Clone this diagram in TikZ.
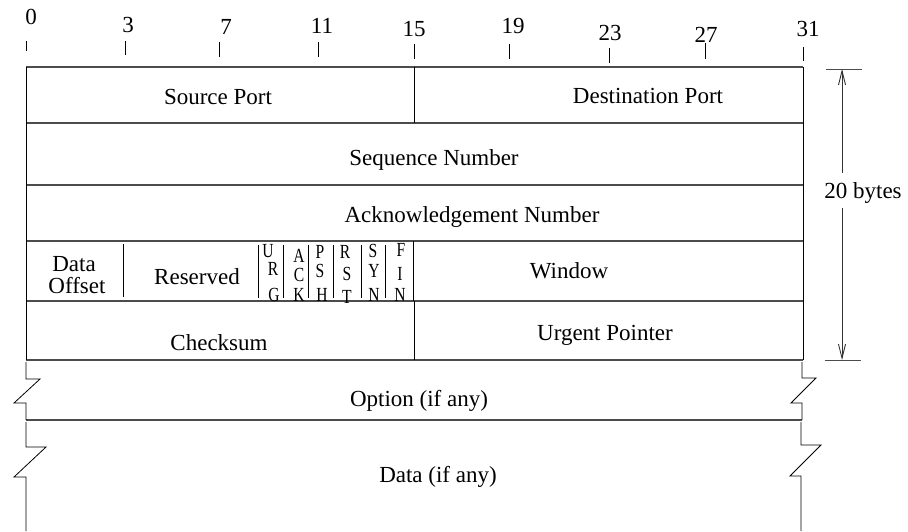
\documentclass[tikz,border=0pt]{standalone}
\usepackage{fontspec}
\setmainfont{Liberation Serif}
\usetikzlibrary{arrows.meta}
\newcommand{\flagch}[1]{\scalebox{0.78}[1]{#1}}
\begin{document}
\begin{tikzpicture}[x=1pt,y=-1pt,
  lbl/.style={font=\fontsize{23}{26}\selectfont, inner sep=0pt, anchor=base},
  flagl/.style={font=\fontsize{20}{22}\selectfont, inner sep=0pt},
  ticklbl/.style={font=\fontsize{23}{26}\selectfont, inner sep=0pt},
  rowline/.style={draw=black!70, line width=1.3pt},
  vline/.style={draw=black, line width=1pt},
  thin/.style={draw=black, line width=0.8pt},
  dimarrow/.style={draw=black!80, line width=0.9pt, -{Straight Barb[length=14pt,width=7pt]}}]
\useasboundingbox (0,0) rectangle (908,531);

% tick marks and labels
\foreach \x/\lx/\ly/\ta/\tb/\t in {26/31/17/41/51/0, 125/128/25/41/55/3, 219/226/27/42/57/7,
   318/322/26/42/57/11, 414/414/29/44/59/15, 509/513/26/44/59/19, 609/610/33/48/63/23,
   705/706/35/43/59/27, 803/808/29/47/61/31}{
  \draw[thin] (\x,\ta) -- (\x,\tb);
  \node[ticklbl] (t\t) at (\lx,\ly) {\t};
}

% row lines
\foreach \y in {67,123,185,241,301,360}{
  \draw[rowline] (26,\y) -- (803,\y);
}
\draw[rowline] (26,420) -- (802,420);

% outer vertical edges of the 20-byte header
\draw[vline] (26,67) -- (26,360);
\draw[vline] (803,67) -- (803,360);

% internal dividers
\draw[vline] (414,67) -- (414,123);
\draw[vline] (123,244) -- (123,297);
\draw[vline] (413,241) -- (413,301);
\draw[vline] (414,301) -- (414,360);
\foreach \x in {258,283,308,333,361,385}{
  \draw[thin] (\x,245) -- (\x,298);
}

% broken edges: option
\draw[thin] (26,362) -- (26,379) -- (40,379) -- (14,403) -- (26,403) -- (26,420);
\draw[thin] (802,362) -- (802,378) -- (816,378) -- (791,403) -- (802,403) -- (802,420);
% broken edges: data
\draw[thin] (26,422) -- (26,447) -- (46,447) -- (14,477) -- (26,477) -- (26,531);
\draw[thin] (801,422) -- (801,445) -- (821,445) -- (790,476) -- (801,476) -- (801,531);

% field texts
\node[lbl] (sport) at (218,104) {Source Port};
\node[lbl] (dport) at (648,103) {Destination Port};
\node[lbl] (seq) at (434,165) {Sequence Number};
\node[lbl] (ack) at (472,222) {Acknowledgement Number};
\node[lbl] (doff1) at (74,271) {Data};
\node[lbl] (doff2) at (77,293) {Offset};
\node[lbl] (resv) at (197,284) {Reserved};
\node[lbl] (win) at (569,278) {Window};
\node[lbl] (csum) at (219,350) {Checksum};
\node[lbl] (urg) at (605,340) {Urgent Pointer};
\node[lbl] (opt) at (419,406) {Option (if any)};
\node[lbl] (data) at (438,482) {Data (if any)};

% flags
\foreach \l/\x/\y/\n in {U/268/251/u1, R/273/269/u2, G/274/295/u3,
  A/299/256/a1, C/299/275/a2, K/299/295/a3,
  P/320/252/p1, S/320/271/p2, H/322/295/p3,
  R/345/252/r1, S/347/274/r2, T/347/297/r3,
  S/373/251/s1, Y/374/271/s2, N/374/295/s3,
  F/401/250/f1, I/400/274/f2, N/400/295/f3}{
  \node[flagl] (\n) at (\x,\y) {\flagch{\l}};
}

% 20 bytes dimension
\coordinate (bt1) at (826,69);
\coordinate (bt2) at (862,69);
\coordinate (bb1) at (825,360);
\coordinate (bb2) at (861,360);
\draw[thin, draw=black!70] (bt1) -- (bt2);
\draw[thin, draw=black!70] (bb1) -- (bb2);
\node[lbl] (bytes) at (863,198) {20 bytes};
\coordinate (atop) at (842,69);
\coordinate (abot) at (842,360);
\coordinate (amid1) at (842,173);
\coordinate (amid2) at (842,208);
\draw[dimarrow] (amid1) -- (atop);
\draw[dimarrow] (amid2) -- (abot);
\end{tikzpicture}
\end{document}
